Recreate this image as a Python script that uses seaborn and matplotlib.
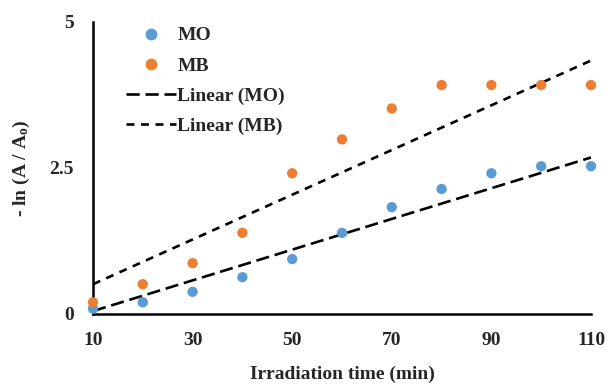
import numpy as np
import pandas as pd
import matplotlib
matplotlib.use("Agg")
import matplotlib.pyplot as plt
import seaborn as sns
from matplotlib.lines import Line2D

time_min = [10, 20, 30, 40, 50, 60, 70, 80, 90, 100, 110]
mo_vals = [0.09, 0.20, 0.38, 0.63, 0.94, 1.39, 1.83, 2.14, 2.41, 2.53, 2.53]
mb_vals = [0.20, 0.51, 0.87, 1.39, 2.41, 2.99, 3.52, 3.92, 3.92, 3.92, 3.92]
trend_x = [10, 110]
mo_trend = [0.05, 2.68]
mb_trend = [0.51, 4.34]
x_ticks = [10, 30, 50, 70, 90, 110]
y_ticks = [0, 2.5, 5]
y_tick_labels = ["0", "2.5", "5"]

sns.set_theme(style="white")
plt.rcParams["font.family"] = ["Liberation Serif", "DejaVu Serif"]
plt.rcParams["font.weight"] = "bold"
plt.rcParams["mathtext.fontset"] = "custom"
plt.rcParams["mathtext.rm"] = "Liberation Serif:bold"
plt.rcParams["mathtext.it"] = "Liberation Serif:bold"
plt.rcParams["mathtext.bf"] = "Liberation Serif:bold"

c_mo = "#5B9BD5"
c_mb = "#ED7D31"

pts = pd.DataFrame({
    "t": time_min * 2,
    "v": mo_vals + mb_vals,
    "s": ["MO"] * len(time_min) + ["MB"] * len(time_min),
})

fig = plt.figure(figsize=(6.08, 3.88), dpi=100)
ax = fig.add_axes([93 / 608, 74 / 388, 498 / 608, 292 / 388])

mo_ls = (0, (5, 2.2))
mb_ls = (0, (3, 2.5))
sns.lineplot(x=trend_x, y=mo_trend, ax=ax, color="black", lw=1.9,
             linestyle=mo_ls, zorder=2)
sns.lineplot(x=trend_x, y=mb_trend, ax=ax, color="black", lw=1.9,
             linestyle=mb_ls, zorder=2)
sns.scatterplot(data=pts, x="t", y="v", hue="s", palette={"MO": c_mo, "MB": c_mb},
                s=55, edgecolor="none", ax=ax, legend=False, zorder=3, clip_on=False)

ax.set_xlim(10, 110)
ax.set_ylim(0, 5)
ax.set_xticks(x_ticks)
ax.set_yticks(y_ticks)
ax.set_yticklabels(y_tick_labels)
ax.tick_params(axis="both", length=0, labelsize=14)
ax.xaxis.set_tick_params(pad=13)
ax.yaxis.set_tick_params(pad=14)
for lab in ax.get_xticklabels() + ax.get_yticklabels():
    lab.set_fontweight("bold")

for s in ["top", "right"]:
    ax.spines[s].set_visible(False)
for s in ["left", "bottom"]:
    ax.spines[s].set_color("black")
    ax.spines[s].set_linewidth(1.8)

ax.set_xlabel("Irradiation time (min)", fontsize=14, fontweight="bold", labelpad=12)
ax.set_ylabel(r"- ln (A / A$_\mathrm{o}$)", fontsize=14, fontweight="bold", labelpad=12)

handles = [
    Line2D([], [], marker="o", color=c_mo, linestyle="none", markersize=7.5),
    Line2D([], [], marker="o", color=c_mb, linestyle="none", markersize=7.5),
    Line2D([], [], color="black", lw=1.9, linestyle=mo_ls),
    Line2D([], [], color="black", lw=1.9, linestyle=mb_ls),
]
labels = ["MO", "MB", "Linear (MO)", "Linear (MB)"]
leg = ax.legend(handles, labels, loc="upper left", bbox_to_anchor=(0.05, 1.01),
                frameon=False, fontsize=14, handlelength=2.6, handletextpad=0.05,
                labelspacing=0.65, borderaxespad=0)
for t in leg.get_texts():
    t.set_fontweight("bold")

fig.savefig("out.png", dpi=100)
